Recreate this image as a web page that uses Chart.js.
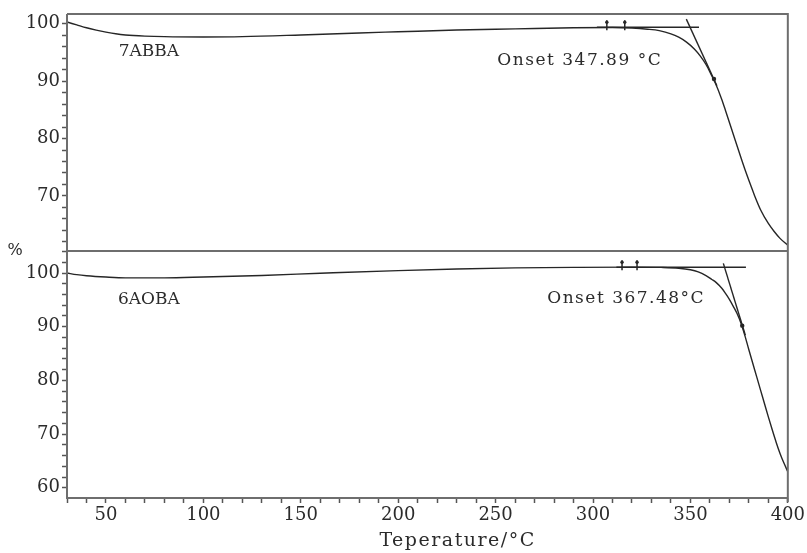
<!DOCTYPE html>
<html>
<head>
<meta charset="utf-8">
<script src="https://cdn.jsdelivr.net/npm/chart.js@4.4.1/dist/chart.umd.min.js"></script>
<style>
  html, body { margin: 0; padding: 0; background: #fff; }
  #wrap { width: 807px; height: 553px; }
</style>
</head>
<body>
<div id="wrap"><canvas id="tga" width="807" height="553"></canvas></div>
<script>
// 7ABBA (upper panel), mass % vs temperature
const tempsA = [30, 35, 40, 45, 50, 55, 60, 70, 80, 100, 120, 150, 180, 200, 230, 260, 290, 310, 320, 328, 334,
  340, 344, 348, 352, 355, 358, 361, 363, 366, 368, 371, 373, 376, 378, 381, 383, 386, 390, 393, 396, 400];
const massA = [100.3, 99.8, 99.3, 98.9, 98.55, 98.25, 98.05, 97.85, 97.75, 97.7, 97.75, 98.05, 98.4, 98.6, 98.9, 99.1, 99.3, 99.35, 99.25, 99.05, 98.8,
  98.25, 97.65, 96.8, 95.6, 94.4, 92.9, 90.9, 89.5, 86.9, 84.9, 81.8, 79.7, 76.6, 74.6, 71.8, 70.0, 67.6, 65.2, 63.8, 62.6, 61.4];

// 6AOBA (lower panel)
const tempsB = [30, 35, 40, 50, 60, 80, 100, 130, 160, 200, 230, 260, 290, 320, 335, 344, 350, 354, 358, 361, 363,
  366, 368, 370, 372, 374, 376, 378, 380, 382, 384, 386, 388, 390, 392, 394, 396, 398, 400];
const massB = [100.0, 99.7, 99.5, 99.25, 99.1, 99.1, 99.25, 99.55, 99.95, 100.45, 100.75, 100.95, 101.05, 101.1, 101.05, 100.9, 100.6, 100.2, 99.5, 98.8, 98.3,
  97.2, 96.2, 95.1, 93.8, 92.4, 90.6, 88.3, 85.7, 83.2, 80.7, 78.2, 75.7, 73.2, 70.8, 68.5, 66.4, 64.6, 63.0];

// onset construction lines
const baseA = [302, 354.4], baseAVal = [99.38, 99.38];
const tanA = [347.9, 363.6], tanAVal = [100.8, 89.2];
const dotA = [362.1], dotAVal = [90.37];
const cursorA = [307.1, 316.3];

const baseB = [312, 378.5], baseBVal = [101.06, 101.06];
const tanB = [366.9, 378.2], tanBVal = [101.8, 88.4];
const dotB = [376.6], dotBVal = [90.2];
const cursorB = [314.9, 322.6];

// tick labels
const xLabels = [50, 100, 150, 200, 250, 300, 350, 400];
const yTopLabels = [70, 80, 90, 100];
const yBotLabels = [60, 70, 80, 90, 100];

const pts = (xs, ys) => xs.map((t, i) => ({ x: t, y: ys[i] }));
const ticksEvery = (from, to, step) => { const r = []; for (let v = from; v <= to; v += step) r.push({ value: v }); return r; };

const ink = '#262626';
const frame = '#6e6e6e';
const serif = '"DejaVu Serif", "Liberation Serif", serif';

const tgaDecor = {
  id: 'tgaDecor',
  afterDraw(chart) {
    const ctx = chart.ctx;
    const a = chart.chartArea;
    const x = chart.scales.x, yTop = chart.scales.yTop, yBot = chart.scales.yBot;
    ctx.save();
    // box + divider between the two panels
    ctx.strokeStyle = frame;
    ctx.lineWidth = 2;
    ctx.beginPath();
    ctx.moveTo(a.left, a.top);
    ctx.lineTo(a.right, a.top);
    ctx.lineTo(a.right, a.bottom + 4);
    ctx.moveTo(a.left, a.top);
    ctx.lineTo(a.left, a.bottom);
    ctx.lineTo(a.right, a.bottom);
    ctx.moveTo(a.left, yTop.bottom);
    ctx.lineTo(a.right, yTop.bottom);
    ctx.stroke();

    // cursor marks on the baselines
    ctx.strokeStyle = ink;
    ctx.fillStyle = ink;
    ctx.lineWidth = 1.5;
    const cursor = (t, v, sc) => {
      const px = x.getPixelForValue(t), py = sc.getPixelForValue(v);
      ctx.beginPath();
      ctx.moveTo(px, py - 7);
      ctx.lineTo(px, py + 3);
      ctx.stroke();
      ctx.beginPath();
      ctx.arc(px, py - 5, 1.7, 0, Math.PI * 2);
      ctx.fill();
    };
    cursorA.forEach(t => cursor(t, baseAVal[0], yTop));
    cursorB.forEach(t => cursor(t, baseBVal[0], yBot));

    // texts
    ctx.fillStyle = '#2b2b2b';
    ctx.textBaseline = 'middle';
    const text = (s, t, v, sc, size, spacing, align) => {
      ctx.font = size + 'px ' + serif;
      ctx.letterSpacing = spacing + 'px';
      ctx.textAlign = align;
      ctx.fillText(s, x.getPixelForValue(t), sc.getPixelForValue(v));
    };
    text('7ABBA', 72, 95.1, yTop, 17, 0, 'center');
    text('Onset 347.89 °C', 250.9, 93.5, yTop, 17, 1.5, 'left');
    text('6AOBA', 72, 95.0, yBot, 17, 0, 'center');
    text('Onset 367.48°C', 276.5, 95.3, yBot, 17, 1.5, 'left');

    ctx.font = '19px ' + serif;
    ctx.letterSpacing = '1.5px';
    ctx.textAlign = 'center';
    ctx.fillText('Teperature/°C', x.getPixelForValue(230.5), x.bottom - 12);
    ctx.font = '16px ' + serif;
    ctx.letterSpacing = '0px';
    ctx.fillText('%', 15, yTop.bottom);
    ctx.restore();
  }
};

const curveStyle = { borderColor: ink, borderWidth: 1.4, pointRadius: 0, cubicInterpolationMode: 'monotone', fill: false };
const guideStyle = { borderColor: ink, borderWidth: 1.4, pointRadius: 0, tension: 0, fill: false };
const dotStyle = { showLine: false, pointRadius: 2.2, pointBackgroundColor: ink, pointBorderWidth: 0 };

const tickGrid = { drawOnChartArea: false, drawTicks: true, tickLength: 5, tickColor: '#555', tickWidth: 1.5 };
const tickFont = { family: serif, size: 18 };

new Chart(document.getElementById('tga'), {
  type: 'line',
  data: {
    datasets: [
      { ...curveStyle, data: pts(tempsA, massA), yAxisID: 'yTop' },
      { ...guideStyle, data: pts(baseA, baseAVal), yAxisID: 'yTop' },
      { ...guideStyle, data: pts(tanA, tanAVal), yAxisID: 'yTop' },
      { ...dotStyle, data: pts(dotA, dotAVal), yAxisID: 'yTop' },
      { ...curveStyle, data: pts(tempsB, massB), yAxisID: 'yBot' },
      { ...guideStyle, data: pts(baseB, baseBVal), yAxisID: 'yBot' },
      { ...guideStyle, data: pts(tanB, tanBVal), yAxisID: 'yBot' },
      { ...dotStyle, data: pts(dotB, dotBVal), yAxisID: 'yBot' }
    ]
  },
  options: {
    responsive: false,
    animation: false,
    events: [],
    layout: { padding: { left: 0, top: 14, right: 18, bottom: 0 } },
    plugins: { legend: { display: false }, tooltip: { enabled: false } },
    scales: {
      x: {
        type: 'linear',
        min: 30,
        max: 400,
        afterFit: s => { s.height = 55; },
        afterBuildTicks: s => { s.ticks = ticksEvery(30, 400, 10); },
        grid: tickGrid,
        border: { display: false },
        ticks: {
          autoSkip: false,
          maxRotation: 0,
          padding: 2,
          color: '#2b2b2b',
          font: tickFont,
          callback: v => xLabels.includes(v) ? String(v) : ''
        }
      },
      // lower panel is declared first so the stacked layout puts it below
      yBot: {
        type: 'linear',
        position: 'left',
        stack: 'tga',
        stackWeight: 247,
        min: 58.1,
        max: 104.1,
        afterFit: s => { s.width = 67; },
        afterBuildTicks: s => { s.ticks = ticksEvery(60, 104, 2); },
        grid: tickGrid,
        border: { display: false },
        ticks: {
          autoSkip: false,
          padding: 2,
          color: '#2b2b2b',
          font: tickFont,
          callback: v => yBotLabels.includes(v) ? String(v) : ''
        }
      },
      yTop: {
        type: 'linear',
        position: 'left',
        stack: 'tga',
        stackWeight: 237,
        min: 60.4,
        max: 101.7,
        afterFit: s => { s.width = 67; },
        afterBuildTicks: s => { s.ticks = ticksEvery(62, 100, 2); },
        grid: tickGrid,
        border: { display: false },
        ticks: {
          autoSkip: false,
          padding: 2,
          color: '#2b2b2b',
          font: tickFont,
          callback: v => yTopLabels.includes(v) ? String(v) : ''
        }
      }
    }
  },
  plugins: [tgaDecor]
});
</script>
</body>
</html>
